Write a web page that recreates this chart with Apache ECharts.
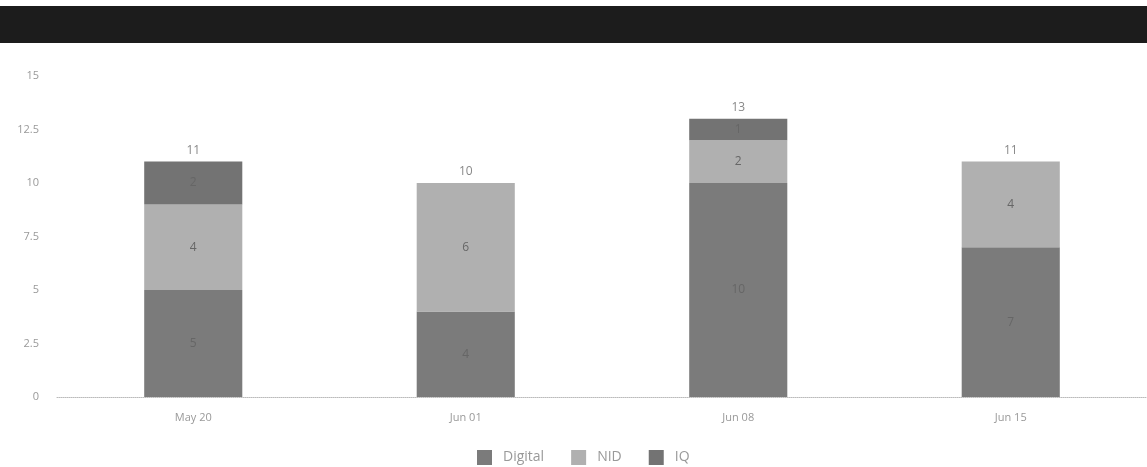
<!DOCTYPE html>
<html>
<head>
<meta charset="utf-8">
<script src="https://cdn.jsdelivr.net/npm/echarts@6/dist/echarts.min.js"></script>
<style>
html,body{margin:0;padding:0;background:#fff;}
#c{width:1147px;height:467px;}
</style>
</head>
<body>
<div id="c"></div>
<script>
const categories = ['May 20', 'Jun 01', 'Jun 08', 'Jun 15'];
const digital = [5, 4, 10, 7];
const nid = [4, 6, 2, 4];
const iq = [2, 0, 1, 0];
const yTicks = [0, 2.5, 5, 7.5, 10, 12.5, 15];

const totals = categories.map((_, i) => digital[i] + nid[i] + iq[i]);

const chart = echarts.init(document.getElementById('c'), null, {renderer: 'canvas'});
const inner = {
  show: true, position: 'inside', color: '#666', fontSize: 12,
  fontFamily: 'Open Sans',
  formatter: p => (p.value > 0 ? String(p.value) : '')
};
chart.setOption({
  animation: false,
  backgroundColor: '#ffffff',
  graphic: [{
    type: 'rect', left: 0, top: 6, z: -1,
    shape: {width: 1147, height: 37},
    style: {fill: '#1c1c1c'}
  }],
  grid: {left: 57, right: -6, top: 76, bottom: 70, containLabel: false},
  legend: {
    left: 477, top: 450, padding: 0,
    itemWidth: 15, itemHeight: 15, itemGap: 27,
    icon: 'rect',
    textStyle: {color: '#999', fontSize: 14, fontFamily: 'Open Sans', padding: [0, 0, 0, 6]},
    data: ['Digital', 'NID', 'IQ']
  },
  xAxis: {
    type: 'category', data: categories,
    axisLine: {show: true, lineStyle: {color: '#bbb', type: 'dotted'}},
    axisTick: {show: false},
    axisLabel: {color: '#999', fontSize: 11, margin: 15, fontFamily: 'Open Sans'}
  },
  yAxis: {
    type: 'value', min: yTicks[0], max: yTicks[yTicks.length - 1], interval: 2.5,
    axisLine: {show: false}, axisTick: {show: false},
    splitLine: {show: false},
    axisLabel: {color: '#999', fontSize: 11, margin: 18, fontFamily: 'Open Sans'}
  },
  series: [
    {name: 'Digital', type: 'bar', stack: 's', data: digital, barWidth: '36%',
     itemStyle: {color: '#7b7b7b'}, label: inner},
    {name: 'NID', type: 'bar', stack: 's', data: nid,
     itemStyle: {color: '#b0b0b0'}, label: inner},
    {name: 'IQ', type: 'bar', stack: 's', data: iq,
     itemStyle: {color: '#737373'}, label: inner},
    {name: 'Total', type: 'line', data: totals, symbolSize: 0, showSymbol: true,
     lineStyle: {opacity: 0}, silent: true, legendHoverLink: false,
     label: {show: true, position: 'top', distance: 5, color: '#888', fontSize: 12, fontFamily: 'Open Sans'}}
  ]
});
</script>
</body>
</html>
